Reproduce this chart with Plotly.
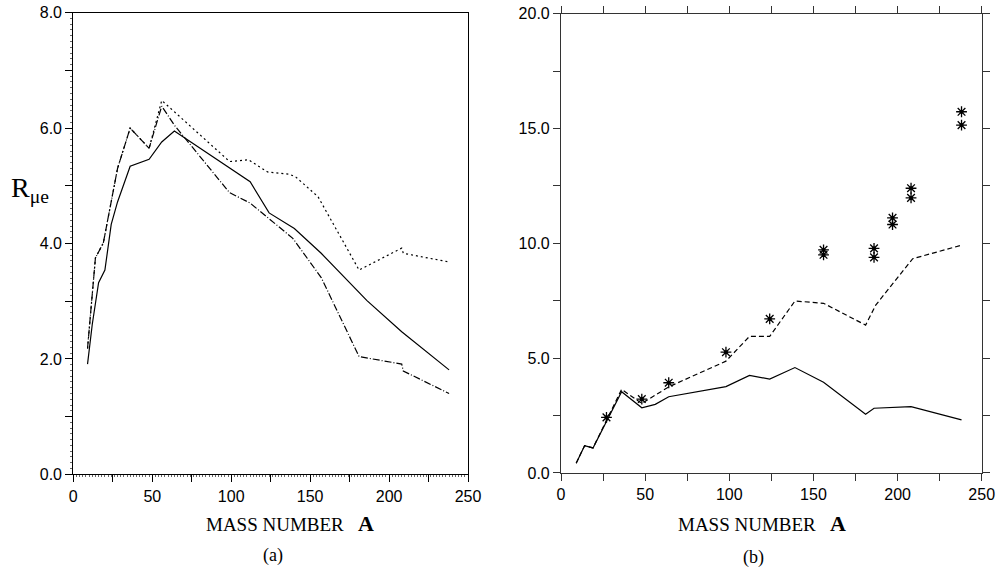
import plotly.graph_objects as go

# ---------------- data: panel (a) ----------------
A_solid_a = [9, 12, 16, 20, 24, 28, 36, 48, 56, 64, 112, 124, 140, 157, 186, 208, 238]
R_solid_a = [1.91, 2.60, 3.32, 3.54, 4.33, 4.72, 5.34, 5.46, 5.76, 5.95, 5.07, 4.53, 4.26, 3.83, 3.01, 2.47, 1.81]

A_dashdot_a = [9, 14, 19, 28, 36, 48, 56, 64, 99, 112, 139, 157, 181, 208, 209, 238]
R_dashdot_a = [2.18, 3.75, 4.01, 5.30, 6.00, 5.65, 6.38, 6.05, 4.88, 4.70, 4.09, 3.41, 2.04, 1.91, 1.79, 1.40]

A_dot_a = [9, 14, 19, 28, 36, 48, 56, 99, 111, 123, 137, 141, 155, 181, 208, 209, 238]
R_dot_a = [2.18, 3.75, 4.01, 5.30, 6.00, 5.65, 6.48, 5.42, 5.45, 5.24, 5.20, 5.15, 4.81, 3.54, 3.92, 3.83, 3.68]

# ---------------- data: panel (b) ----------------
A_solid_b = [9, 14, 19, 36, 48, 56, 64, 98, 112, 124, 139, 156, 181, 186, 208, 238]
R_solid_b = [0.42, 1.19, 1.09, 3.54, 2.84, 2.99, 3.32, 3.76, 4.25, 4.09, 4.59, 3.95, 2.56, 2.82, 2.89, 2.31]

A_dash_b = [9, 14, 19, 36, 48, 64, 98, 112, 124, 139, 156, 181, 187, 209, 238]
R_dash_b = [0.42, 1.19, 1.09, 3.64, 3.03, 3.75, 4.87, 5.95, 5.95, 7.49, 7.39, 6.44, 7.31, 9.33, 9.92]

A_exp = [27, 48, 64, 98, 124, 156, 156, 186, 186, 197, 197, 208, 208, 238, 238]
R_exp = [2.42, 3.22, 3.93, 5.26, 6.71, 9.72, 9.50, 9.78, 9.39, 11.11, 10.82, 12.40, 11.98, 15.73, 15.15]

# tick definitions
x_tickvals = [0, 25, 50, 75, 100, 125, 150, 175, 200, 225, 250]
x_ticktext = ["0", "", "50", "", "100", "", "150", "", "200", "", "250"]
ya_tickvals = [0, 1, 2, 3, 4, 5, 6, 7, 8]
ya_ticktext = ["0.0", "", "2.0", "", "4.0", "", "6.0", "", "8.0"]
yb_tickvals = [0, 2.5, 5, 7.5, 10, 12.5, 15, 17.5, 20]
yb_ticktext = ["0.0", "", "5.0", "", "10.0", "", "15.0", "", "20.0"]

LW = 1.2
fig = go.Figure()
fig.add_trace(go.Scatter(x=A_solid_a, y=R_solid_a, mode="lines",
                         line=dict(color="black", width=LW), xaxis="x", yaxis="y"))
fig.add_trace(go.Scatter(x=A_dot_a, y=R_dot_a, mode="lines",
                         line=dict(color="black", width=LW, dash="2px,3px"), xaxis="x", yaxis="y"))
fig.add_trace(go.Scatter(x=A_dashdot_a, y=R_dashdot_a, mode="lines",
                         line=dict(color="black", width=LW, dash="7px,2px,1px,2px"), xaxis="x", yaxis="y"))

fig.add_trace(go.Scatter(x=A_solid_b, y=R_solid_b, mode="lines",
                         line=dict(color="black", width=LW), xaxis="x2", yaxis="y2"))
fig.add_trace(go.Scatter(x=A_dash_b, y=R_dash_b, mode="lines",
                         line=dict(color="black", width=LW, dash="5px,3px"), xaxis="x2", yaxis="y2"))
fig.add_trace(go.Scatter(x=A_exp, y=R_exp, mode="markers",
                         marker=dict(symbol="asterisk-open", size=9, color="black",
                                     line=dict(color="black", width=1.3)),
                         xaxis="x2", yaxis="y2"))
fig.add_trace(go.Scatter(x=A_exp, y=R_exp, mode="markers",
                         marker=dict(symbol="circle", size=4, color="black"),
                         xaxis="x2", yaxis="y2"))

tickfont = dict(family="Liberation Sans, Arial, sans-serif", size=16, color="black")

common_x = dict(range=[0, 250], tickmode="array", tickvals=x_tickvals, ticktext=x_ticktext,
                ticks="outside", ticklen=7, tickwidth=1, showgrid=False, zeroline=False,
                showline=True, linewidth=1.2, tickfont=tickfont, automargin=False, fixedrange=True)

fig.update_layout(
    template="none",
    width=999, height=574,
    margin=dict(l=0, r=0, t=0, b=0),
    paper_bgcolor="white", plot_bgcolor="white",
    showlegend=False,
    xaxis=dict(common_x, domain=[0.0734, 0.4685], anchor="y", linecolor="black",
               tickcolor="black", mirror=True,
               minor=dict(dtick=2, ticks="outside", ticklen=2, tickcolor="#666", showgrid=False)),
    yaxis=dict(range=[0, 8], domain=[0.1737, 0.9779], anchor="x", tickmode="array",
               tickvals=ya_tickvals, ticktext=ya_ticktext, ticks="outside", ticklen=7,
               tickcolor="black", showgrid=False, zeroline=False, showline=True,
               linecolor="black", linewidth=1.2, mirror=True, tickfont=tickfont,
               automargin=False, fixedrange=True,
               minor=dict(dtick=0.1, ticks="outside", ticklen=2, tickcolor="#666", showgrid=False)),
    xaxis2=dict(common_x, domain=[0.5616, 0.9827], anchor="y2", linecolor="#333",
                tickcolor="#333", mirror="ticks"),
    yaxis2=dict(range=[0, 20], domain=[0.1760, 0.9761], anchor="x2", tickmode="array",
                tickvals=yb_tickvals, ticktext=yb_ticktext, ticks="outside", ticklen=7,
                tickcolor="#333", showgrid=False, zeroline=False, showline=True,
                linecolor="#333", linewidth=1.2, mirror="ticks", tickfont=tickfont,
                automargin=False, fixedrange=True),
)

serif = "Liberation Serif, Times New Roman, serif"
def add_xtitle(xc):
    fig.add_annotation(x=xc, y=1 - 523 / 574, xref="paper", yref="paper",
                       text="MASS NUMBER&nbsp;&nbsp;&nbsp;<b><span style='font-size:22px'>A</span></b>",
                       showarrow=False,
                       font=dict(family=serif, size=19, color="black"),
                       xanchor="center", yanchor="middle")

add_xtitle(290 / 999)
add_xtitle(762 / 999)

fig.add_annotation(x=273 / 999, y=1 - 555 / 574, xref="paper", yref="paper", text="(a)",
                   showarrow=False, font=dict(family=serif, size=18, color="black"),
                   xanchor="center", yanchor="middle")
fig.add_annotation(x=753 / 999, y=1 - 557 / 574, xref="paper", yref="paper", text="(b)",
                   showarrow=False, font=dict(family=serif, size=18, color="black"),
                   xanchor="center", yanchor="middle")
fig.add_annotation(x=9 / 999, y=1 - 190 / 574, xref="paper", yref="paper",
                   text="R<sub>μe</sub>", showarrow=False,
                   font=dict(family=serif, size=28, color="black"),
                   xanchor="left", yanchor="middle")

fig.write_html("out.html", config={"displayModeBar": False},
               post_script="document.body.style.margin='0';document.body.style.overflow='hidden';")
